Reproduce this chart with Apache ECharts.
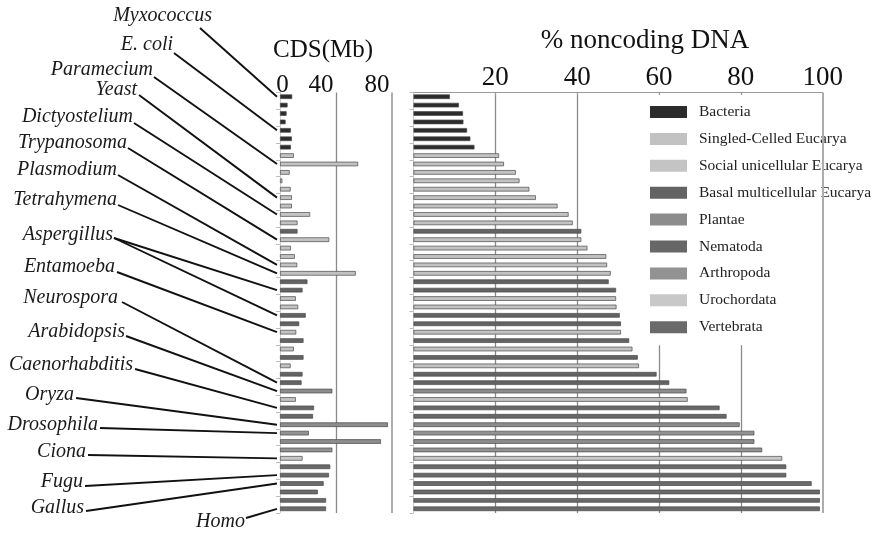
<!DOCTYPE html>
<html><head><meta charset="utf-8">
<script src="https://cdn.jsdelivr.net/npm/echarts@6/dist/echarts.min.js"></script>
<style>html,body{margin:0;padding:0;background:#fff}#c{width:881px;height:535px}</style>
</head><body><div id="c"></div>
<script>
// ---------- data ----------
const groups = ['Bacteria','Singled-Celled Eucarya','Social unicellular Eucarya','Basal multicellular Eucarya','Plantae','Nematoda','Arthropoda','Urochordata','Vertebrata'];
const groupColors = ['#2c2c2c','#c2c2c2','#c4c4c4','#636363','#8c8c8c','#676767','#929292','#c8c8c8','#6a6a6a'];
const rowNames = ['Myxococcus','B2','B3','B4','E. coli','B6','B7',
  'S8','Paramecium','S10','S11','S12','Yeast','S14','Dictyostelium','S16','M17','Trypanosoma','S19','S20','Plasmodium','Tetrahymena',
  'M23','Aspergillus 1','S25','S26','Aspergillus 2','M28','Entamoeba','M30','S31','M32','S33','M34','Neurospora','Arabidopsis','S37',
  'Caenorhabditis','N39','Oryza','Drosophila','P42','A43','Ciona','V45','Fugu','Gallus','V48','V49','Homo'];
const rowGroup = [0,0,0,0,0,0,0,
  1,1,1,1,1,1,1,2,1,3,1,1,1,1,1,
  3,3,1,1,3,3,1,3,1,3,1,3,3,4,1,
  5,5,4,6,4,6,7,8,8,8,8,8,8];
const cdsMb = [8.7,5.4,4.7,4.0,7.8,8.5,7.8,
  9.9,55.8,6.9,1.7,7.6,8.5,8.5,21.5,12.5,12.5,35.2,7.8,10.6,12.3,54.1,
  19.6,16.1,11.3,13.0,18.4,13.7,11.6,16.8,9.9,16.8,7.6,16.1,15.4,37.4,11.3,
  24.3,23.6,77.1,20.6,72.1,37.4,16.1,35.9,35.0,31.2,27.0,32.9,32.9];
const noncodingPct = [8.9,11.1,12.1,12.2,13.1,13.9,14.9,
  20.9,22.1,25.0,25.9,28.3,29.9,35.2,37.9,38.9,41.0,41.0,42.5,47.1,47.3,48.2,
  47.7,49.5,49.5,49.6,50.4,50.7,50.7,52.7,53.5,54.8,55.1,59.4,62.5,66.7,67.0,
  74.8,76.5,79.7,83.3,83.3,85.2,90.1,91.1,91.1,97.3,99.3,99.3,99.3];
const cdsTicks = [0,40,80];
const pctTicks = [0,20,40,60,80,100];
const labelNames = ['Myxococcus','E. coli','Paramecium','Yeast','Dictyostelium','Trypanosoma','Plasmodium','Tetrahymena','Aspergillus','Entamoeba','Neurospora','Arabidopsis','Caenorhabditis','Oryza','Drosophila','Ciona','Fugu','Gallus','Homo'];
const labelRows = [['Myxococcus'],['E. coli'],['Paramecium'],['Yeast'],['Dictyostelium'],['Trypanosoma'],['Plasmodium'],['Tetrahymena'],['Aspergillus 1','Aspergillus 2'],['Entamoeba'],['Neurospora'],['Arabidopsis'],['Caenorhabditis'],['Oryza'],['Drosophila'],['Ciona'],['Fugu'],['Gallus'],['Homo']];

// ---------- layout (positions of annotation text: right x, middle y, line start x, y) ----------
const labelLayout = [
  [212,16,200,28],[173,45,174,53],[153,70,154,77],[137,90,139,95],[133,117,134,123],
  [127,143,128,148],[117,170,118,175],[117,200,118,205],[113,235,114,238],[115,267,117,272],
  [118,298,122,302],[125,332,126,336],[133,365,135,369],[74,395,76,398],[98,425,100,428],
  [86,452,88,455],[83,482,85,486],[84,508,86,511],[245,522,246,518]
];

const chart = echarts.init(document.getElementById('c'), null, {renderer:'canvas'});
const GT = 92.5, GH = 420.5;
const serif = '"Liberation Serif","Times New Roman",serif';

function seriesFor(gridIdx, values, withMax) {
  return groups.map((g, k) => ({
    name: g, type: 'bar',
    xAxisIndex: gridIdx, yAxisIndex: gridIdx,
    barWidth: 4.6, barGap: '-100%',
    itemStyle: {color: groupColors[k], borderColor: '#4a4a4a', borderWidth: 0.7},
    data: values.map((v, i) => rowGroup[i] === k ? v : '-'),
    markLine: k === 0 ? {
      silent: true, symbol: 'none', label: {show: false},
      lineStyle: {color: '#adadad', width: 2, type: 'solid'},
      data: [{xAxis: withMax}]
    } : undefined
  }));
}

const option = {
  animation: false,
  backgroundColor: '#fff',
  grid: [
    {left: 280, top: GT, width: 112, height: GH},
    {left: 413.5, top: GT, width: 409.2, height: GH}
  ],
  xAxis: [
    {gridIndex: 0, type: 'value', position: 'top', min: 0, max: 80, interval: 40,
     axisLine: {show: false}, axisTick: {show: false},
     splitLine: {show: true, showMinLine: false, showMaxLine: false, lineStyle: {color: '#8a8a8a', width: 1.3}},
     axisLabel: {fontFamily: serif, fontSize: 25, color: '#111', margin: -5,
       formatter: v => v === 0 ? '{z|0}' : '{o|' + v + '}',
       rich: {z: {fontFamily: serif, fontSize: 25, color: '#111', padding: [0,0,0,5]},
              o: {fontFamily: serif, fontSize: 25, color: '#111', padding: [0,30,0,0]}}}},
    {gridIndex: 1, type: 'value', position: 'top', min: 0, max: 100, interval: 20,
     axisLine: {show: true, lineStyle: {color: '#9a9a9a', width: 1}},
     axisTick: {show: true, inside: true, length: 3, lineStyle: {color: '#9a9a9a'}},
     splitLine: {show: true, showMinLine: false, showMaxLine: false, lineStyle: {color: '#8a8a8a', width: 1.3}},
     axisLabel: {fontFamily: serif, fontSize: 27, color: '#111', margin: 1, showMinLabel: false}}
  ],
  yAxis: [
    {gridIndex: 0, type: 'category', inverse: true, data: rowNames,
     axisLine: {show: true, lineStyle: {color: '#d0d0d0'}},
     axisTick: {show: true, length: 4, lineStyle: {color: '#bdbdbd'}},
     axisLabel: {show: false}, splitLine: {show: false}},
    {gridIndex: 1, type: 'category', inverse: true, data: rowNames,
     axisLine: {show: true, lineStyle: {color: '#c8c8c8'}},
     axisTick: {show: true, length: 4, lineStyle: {color: '#bdbdbd'}},
     axisLabel: {show: false}, splitLine: {show: false}}
  ],
  legend: {
    orient: 'vertical', left: 638, top: 95, data: groups,
    padding: [9, 40, 10, 12], backgroundColor: '#fff',
    itemWidth: 37, itemHeight: 12, itemGap: 10.9, icon: 'rect',
    itemStyle: {borderWidth: 0},
    textStyle: {fontFamily: serif, fontSize: 15.5, lineHeight: 15, color: '#222', padding: [0,0,0,7]},
    selectedMode: false
  },
  series: [...seriesFor(0, cdsMb, 80), ...seriesFor(1, noncodingPct, 100)]
};
chart.setOption(option);

// titles and species annotations
const x0 = chart.convertToPixel({xAxisIndex: 0}, 0) - 3;
const elements = [
  {type: 'text', style: {text: 'CDS(Mb)', x: 323, y: 50, font: '25px ' + serif, fill: '#111', align: 'center', verticalAlign: 'middle'}},
  {type: 'text', style: {text: '% noncoding DNA', x: 645, y: 41, font: '27px ' + serif, fill: '#111', align: 'center', verticalAlign: 'middle'}}
];
labelNames.forEach((name, i) => {
  const L = labelLayout[i];
  elements.push({type: 'text', style: {text: name, x: L[0], y: L[1], font: 'italic 20px ' + serif, fill: '#1a1a1a', align: 'right', verticalAlign: 'middle'}});
  labelRows[i].forEach(r => {
    const y = chart.convertToPixel({yAxisIndex: 0}, r);
    elements.push({type: 'line', shape: {x1: L[2], y1: L[3], x2: x0, y2: y}, style: {stroke: '#111', lineWidth: 1.9}});
  });
});
chart.setOption({graphic: {elements}});
</script></body></html>
